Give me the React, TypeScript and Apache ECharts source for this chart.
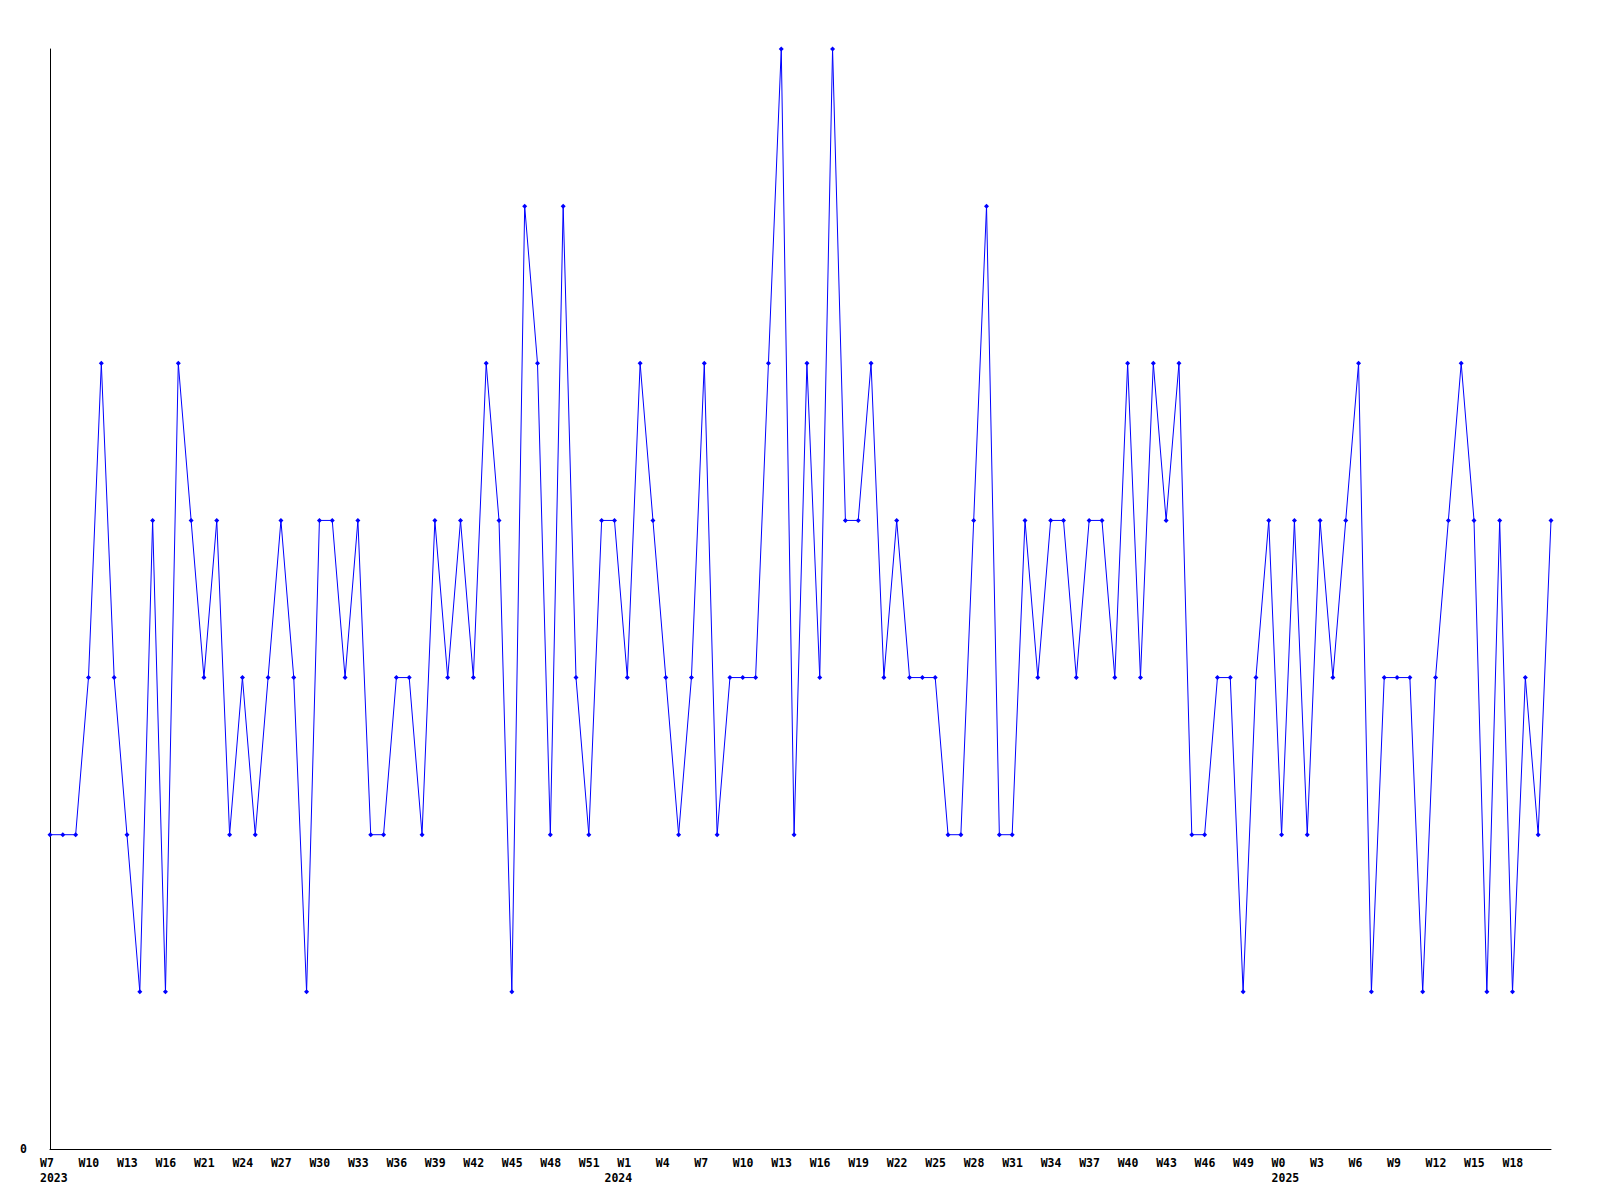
import React, { useEffect, useRef } from "react";
import * as echarts from "echarts";

const weeks2023 = [
  "W7", "W8", "W9", "W10", "W11", "W12", "W13", "W14", "W15", "W16", "W18", "W20",
  "W21", "W22", "W23", "W24", "W25", "W26", "W27", "W28", "W29", "W30", "W31", "W32",
  "W33", "W34", "W35", "W36", "W37", "W38", "W39", "W40", "W41", "W42", "W43", "W44",
  "W45", "W46", "W47", "W48", "W49", "W50", "W51", "W52",
];
const weeks2024 = [
  "W0", "W1", "W2", "W3", "W4", "W5", "W6", "W7", "W8", "W9", "W10", "W11", "W12",
  "W13", "W14", "W15", "W16", "W17", "W18", "W19", "W20", "W21", "W22", "W23", "W24",
  "W25", "W26", "W27", "W28", "W29", "W30", "W31", "W32", "W33", "W34", "W35", "W36",
  "W37", "W38", "W39", "W40", "W41", "W42", "W43", "W44", "W45", "W46", "W47", "W48",
  "W49", "W50", "W51",
];
const weeks2025 = [
  "W0", "W1", "W2", "W3", "W4", "W5", "W6", "W7", "W8", "W9", "W10", "W11", "W12",
  "W13", "W14", "W15", "W16", "W17", "W18", "W19", "W20", "W21",
];
const years = ["2023", "2024", "2025"];

const values2023 = [
  2, 2, 2, 3, 5, 3, 2, 1, 4, 1, 5, 4, 3, 4, 2, 3, 2, 3, 4, 3,
  1, 4, 4, 3, 4, 2, 2, 3, 3, 2, 4, 3, 4, 3, 5, 4, 1, 6, 5, 2,
  6, 3, 2, 4,
];
const values2024 = [
  4, 3, 5, 4, 3, 2, 3, 5, 2, 3, 3, 3, 5, 7, 2, 5,
  3, 7, 4, 4, 5, 3, 4, 3, 3, 3, 2, 2, 4, 6, 2, 2, 4, 3, 4, 4,
  3, 4, 4, 3, 5, 3, 5, 4, 5, 2, 2, 3, 3, 1, 3, 4,
];
const values2025 = [
  2, 4, 2, 4, 3, 4, 5, 1, 3, 3, 3, 1, 3, 4, 5, 4, 1, 4, 1, 3, 2, 4,
];

const yMin = 0;
const yMax = 7;

export default function App() {
  const ref = useRef<HTMLDivElement>(null);

  useEffect(() => {
    if (!ref.current) return;
    const chart = echarts.init(ref.current, undefined, { renderer: "svg" });

    const groups = [weeks2023, weeks2024, weeks2025];
    const categories: string[] = [];
    const yearAt: Record<number, string> = {};
    groups.forEach((g, gi) => {
      yearAt[categories.length] = years[gi];
      categories.push(...g);
    });
    const values = [...values2023, ...values2024, ...values2025];
    const last = categories.length - 1;
    const showWeek = (idx: number) => idx % 3 === 0 && idx !== last;

    const font = "'DejaVu Sans Mono', monospace";

    chart.setOption({
      animation: false,
      backgroundColor: "#ffffff",
      grid: { left: 50, right: 49, top: 49, bottom: 51, containLabel: false },
      xAxis: {
        type: "category",
        data: categories,
        boundaryGap: false,
        axisLine: { show: true, lineStyle: { color: "#000000", width: 1 } },
        axisTick: { show: false },
        splitLine: { show: false },
        axisLabel: {
          interval: (idx: number) => showWeek(idx) || yearAt[idx] !== undefined,
          formatter: (val: string, idx: number) => {
            const wk = showWeek(idx) ? val : "";
            const yr = yearAt[idx];
            return yr !== undefined ? wk + "\n" + yr : wk;
          },
          align: "left",
          padding: [0, 0, 0, -10],
          margin: 6,
          color: "#000000",
          fontFamily: font,
          fontWeight: "bold",
          fontSize: 11.5,
          lineHeight: 15,
          hideOverlap: false,
        },
      },
      yAxis: {
        type: "value",
        min: yMin,
        max: yMax,
        interval: yMax - yMin,
        axisLine: { show: true, lineStyle: { color: "#000000", width: 1 } },
        axisTick: { show: false },
        splitLine: { show: false },
        axisLabel: {
          formatter: (v: number) => (v === 0 ? "0" : ""),
          margin: 23,
          color: "#000000",
          fontFamily: font,
          fontWeight: "bold",
          fontSize: 11.5,
        },
      },
      series: [
        {
          type: "line",
          data: values,
          showSymbol: true,
          showAllSymbol: true,
          symbol: "diamond",
          symbolSize: 5,
          itemStyle: { color: "#0000ff" },
          lineStyle: { color: "#0000ff", width: 1 },
          clip: false,
        },
      ],
    });

    return () => chart.dispose();
  }, []);

  return (
    <div
      ref={ref}
      style={{ position: "fixed", left: 0, top: 0, width: 1600, height: 1200, background: "#fff" }}
    />
  );
}
